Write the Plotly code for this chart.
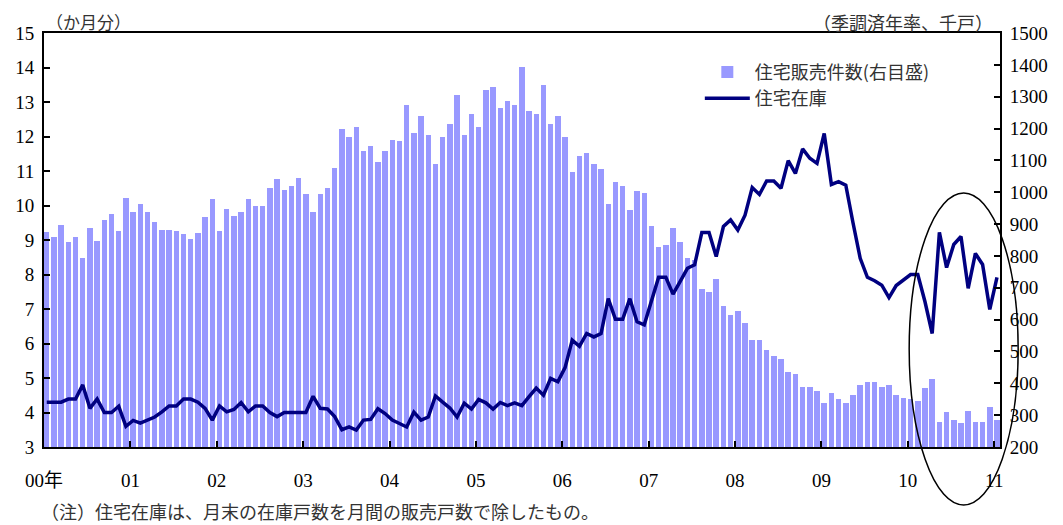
import numpy as np
import plotly.graph_objects as go

# monthly, Jan 2000 - Jan 2011
year_labels = ["00年", "01", "02", "03", "04", "05", "06", "07", "08", "09", "10", "11"]

# new home sales, SAAR (thousand units) -> right axis
home_sales = [
    874, 858, 898, 845, 858, 795, 889, 848, 914, 932, 879, 982,
    939, 964, 939, 907, 882, 882, 879, 869, 854, 873, 923, 980,
    879, 947, 924, 939, 980, 956, 956, 1012, 1043, 1007, 1021, 1045,
    996, 939, 996, 1012, 1077, 1197, 1172, 1205, 1131, 1146, 1096, 1131,
    1165, 1162, 1275, 1187, 1240, 1180, 1089, 1174, 1215, 1306, 1180, 1246,
    1205, 1322, 1331, 1263, 1288, 1275, 1392, 1256, 1246, 1337, 1215, 1240,
    1174, 1064, 1114, 1124, 1089, 1074, 964, 1033, 1020, 945, 1005, 998,
    895, 829, 833, 889, 845, 795, 788, 696, 687, 728, 643, 615,
    627, 590, 536, 536, 505, 486, 476, 436, 429, 388, 388, 376,
    338, 370, 351, 338, 363, 395, 404, 404, 388, 395, 363, 354,
    351, 345, 385, 414, 279, 310, 285, 275, 313, 279, 279, 326,
    285,
]

# months' supply of new homes -> left axis
home_inventory = [
    4.30, 4.30, 4.30, 4.39, 4.39, 4.80, 4.12, 4.39, 4.00, 4.00, 4.18, 3.60,
    3.77, 3.69, 3.78, 3.87, 4.02, 4.19, 4.19, 4.39, 4.39, 4.30, 4.12, 3.78,
    4.19, 4.02, 4.09, 4.29, 4.02, 4.19, 4.19, 4.00, 3.88, 4.00, 4.00, 4.00,
    4.00, 4.47, 4.12, 4.10, 3.88, 3.50, 3.58, 3.49, 3.78, 3.80, 4.11, 3.97,
    3.78, 3.68, 3.58, 4.01, 3.78, 3.87, 4.48, 4.30, 4.13, 3.87, 4.27, 4.10,
    4.38, 4.28, 4.10, 4.29, 4.20, 4.28, 4.20, 4.46, 4.71, 4.50, 4.99, 4.89,
    5.30, 6.10, 5.92, 6.29, 6.19, 6.29, 7.30, 6.70, 6.70, 7.30, 6.63, 6.54,
    7.25, 7.92, 7.92, 7.43, 7.80, 8.18, 8.28, 9.22, 9.22, 8.52, 9.39, 9.58,
    9.29, 9.72, 10.52, 10.32, 10.71, 10.71, 10.50, 11.30, 10.93, 11.64, 11.37, 11.22,
    12.09, 10.61, 10.69, 10.59, 9.50, 8.47, 7.92, 7.82, 7.69, 7.33, 7.68, 7.84,
    8.00, 8.00, 7.21, 6.29, 9.22, 8.20, 8.87, 9.10, 7.60, 8.61, 8.29, 6.99,
    7.92,
]

months = np.arange(len(home_sales))
x_pos = months + 0.38
year_ticks = np.arange(len(year_labels)) * 12

serif = "Liberation Serif, Times New Roman, Noto Sans CJK JP"
jp = "Noto Sans CJK JP"

fig = go.Figure()

# bars on the base axis (right side) so the line overlay is drawn on top
fig.add_trace(
    go.Bar(
        x=x_pos,
        y=home_sales,
        width=0.76,
        name="住宅販売件数(右目盛)",
        marker=dict(color="#9999FF", line=dict(width=0)),
        yaxis="y",
    )
)
fig.add_trace(
    go.Scatter(
        x=x_pos,
        y=home_inventory,
        mode="lines",
        name="住宅在庫",
        line=dict(color="#000080", width=3.5),
        yaxis="y2",
    )
)

axis_style = dict(
    showline=True,
    linecolor="black",
    linewidth=2,
    ticks="inside",
    ticklen=6,
    tickwidth=2,
    tickcolor="black",
    showgrid=False,
    zeroline=False,
    automargin=False,
    tickfont=dict(family=serif, size=19, color="black"),
)

# page body adds an 8px offset, so the figure is 8px smaller than the window
fig.update_layout(
    width=1055,
    height=517,
    margin=dict(l=36, r=63, t=25, b=78),
    plot_bgcolor="white",
    paper_bgcolor="white",
    showlegend=True,
    bargap=0,
    font=dict(family=serif, size=19, color="black"),
    xaxis=dict(
        range=[0, 132.8],
        tickvals=year_ticks,
        ticktext=year_labels,
        mirror=True,
        ticklabelstandoff=15,
        **axis_style,
    ),
    yaxis=dict(
        side="right",
        range=[200, 1500],
        dtick=100,
        ticklabelstandoff=4,
        **axis_style,
    ),
    yaxis2=dict(
        side="left",
        overlaying="y",
        range=[3, 15],
        dtick=1,
        ticklabelstandoff=4,
        **axis_style,
    ),
    legend=dict(
        x=0.686,
        y=0.95,
        xanchor="left",
        yanchor="top",
        bgcolor="rgba(0,0,0,0)",
        font=dict(family=jp, size=18, color="#333333"),
        itemwidth=45,
        tracegroupgap=2,
    ),
)

# unit labels and footnote
fig.add_annotation(
    text="（か月分）", xref="paper", yref="paper", x=0.0, y=1.027,
    xanchor="left", yanchor="middle", showarrow=False,
    font=dict(family=jp, size=17, color="#333333"),
)
fig.add_annotation(
    text="（季調済年率、千戸）", xref="paper", yref="paper", x=0.995, y=1.027,
    xanchor="right", yanchor="middle", showarrow=False,
    font=dict(family=jp, size=18, color="#333333"),
)
fig.add_annotation(
    text="（注）住宅在庫は、月末の在庫戸数を月間の販売戸数で除したもの。",
    xref="paper", yref="paper", x=-0.005, y=-0.155,
    xanchor="left", yanchor="middle", showarrow=False,
    font=dict(family=jp, size=18, color="#333333"),
)

# highlight ellipse around 2010
fig.add_shape(
    type="circle", xref="paper", yref="paper",
    x0=0.905, x1=1.019, y0=-0.140, y1=0.6135,
    line=dict(color="black", width=1.5), layer="above",
)

fig.write_html("out.html")
